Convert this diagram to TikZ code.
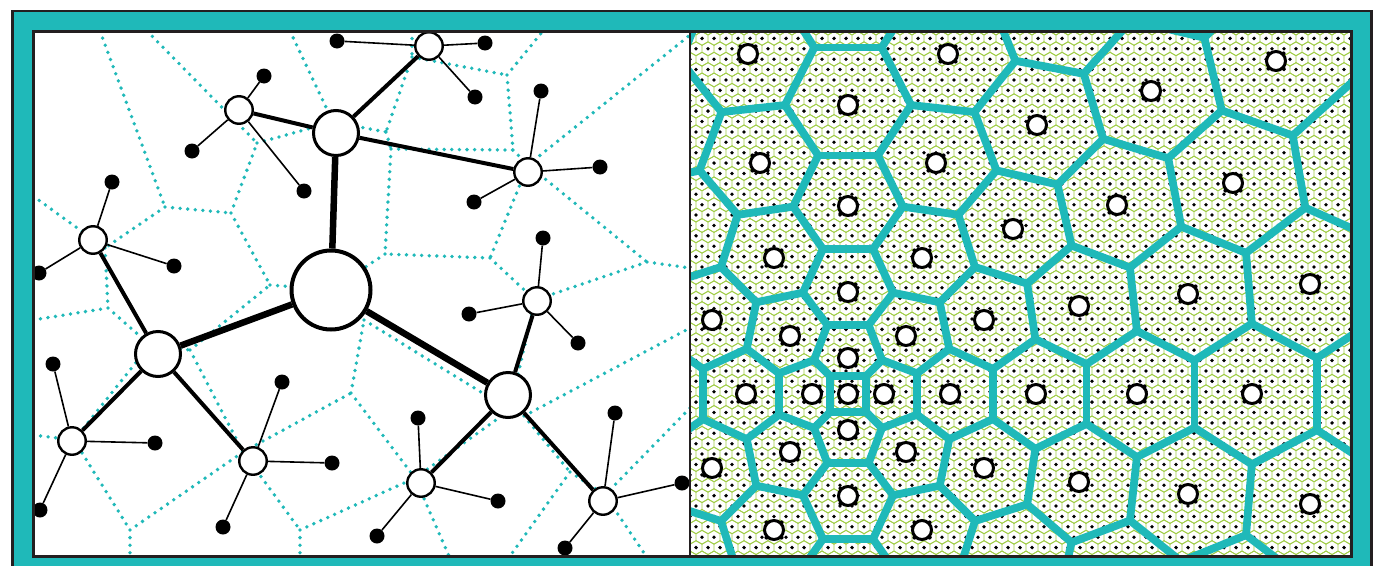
\documentclass[tikz,border=0pt]{standalone}
\usetikzlibrary{calc}
\definecolor{tealc}{RGB}{31,185,185}
\definecolor{darkc}{RGB}{35,31,32}
\definecolor{meshc}{RGB}{160,205,70}
\def\VorSites{848/394,884/394,812/394,848/430,848/358,906/452,906/336,790/452,790/336,950/394,746/394,848/496,848/292,984/468,984/320,712/468,712/320,922/530,922/258,774/530,774/258,1036/394,660/394,848/582,848/206,1079/482,1079/306,617/482,617/306,936/625,936/163,760/625,760/163,1013/559,1013/229,683/559,683/229,1137/394,559/394,848/683,848/105,1188/494,1188/294,948/54,748/54,1117/583,1117/205,579/583,579/205,1037/663,1037/125,659/663,659/125,1151/91,1233/183,1233/605,1059/9,637/9,1252/394,848/-10,1276/61,1181/-34,1310/504,1310/284,958/-68,738/-68,1382/394,1365/160,1365/628}
\begin{document}
\begin{tikzpicture}[x=1pt,y=-1pt,
  vline/.style={tealc, line width=3.8pt, dash pattern=on 0pt off 7.6pt, line cap=round},
  hubedge/.style={line width=6.5pt},
  midedge/.style={line width=4pt},
  thinedge/.style={line width=1.6pt},
  bignode/.style={circle, draw, fill=white, line width=4pt, minimum size=79pt, inner sep=0pt},
  hubnode/.style={circle, draw, fill=white, line width=3pt, minimum size=45pt, inner sep=0pt},
  smallnode/.style={circle, draw, fill=white, line width=2.4pt, minimum size=27.5pt, inner sep=0pt},
  leaf/.style={circle, fill=black, minimum size=15pt, inner sep=0pt},
  sitec/.style={circle, draw, fill=white, line width=3pt, minimum size=19pt, inner sep=0pt},
  voredge/.style={tealc, line width=7.8pt}]
\useasboundingbox (0,0) rectangle (1381,565);
\fill[white] (0,0) rectangle (1381,565);
\filldraw[fill=tealc, draw=darkc, line width=2.5pt] (12.5,11) rectangle (1371.5,600);
\fill[white] (33.5,31.5) rectangle (1351.5,556);

% ---------------- left panel ----------------
\begin{scope}
\clip (33.5,31.5) rectangle (690,556);
\coordinate (e1) at (100,31); \coordinate (e2) at (147,31); \coordinate (e3) at (290,31);
\coordinate (e4) at (412,31); \coordinate (e5) at (543,31); \coordinate (e6) at (690,35);
\coordinate (e7) at (690,268); \coordinate (e8) at (690,328); \coordinate (e9) at (690,408);
\coordinate (e10) at (646,556); \coordinate (e11) at (510,556); \coordinate (e12) at (449,556);
\coordinate (e13) at (300,556); \coordinate (e14) at (130,556); \coordinate (e15) at (33,435);
\coordinate (e16) at (33,320); \coordinate (e17) at (33,196);
\coordinate (V1) at (165,207); \coordinate (V2) at (257,143); \coordinate (VT) at (333,122);
\coordinate (V3) at (386,132); \coordinate (V4) at (391,149); \coordinate (V5) at (513,150);
\coordinate (V6) at (385,254); \coordinate (V7) at (507,75); \coordinate (V8) at (412,57);
\coordinate (V9) at (528,165); \coordinate (V10) at (490,258); \coordinate (V11) at (647,262);
\coordinate (V12) at (535,300); \coordinate (V13) at (510,410); \coordinate (V13b) at (524,416);
\coordinate (V14) at (351,393); \coordinate (V15) at (415,478); \coordinate (V16) at (570,472);
\coordinate (V17) at (605,495); \coordinate (V18) at (130,530); \coordinate (V19) at (243,452);
\coordinate (V20) at (300,530); \coordinate (V21) at (231,213); \coordinate (V22) at (270,285);
\coordinate (V23) at (105,248); \coordinate (V24) at (190,350); \coordinate (V25) at (108,308);
\coordinate (VL) at (150,345); \coordinate (V26) at (74,440); \coordinate (VC) at (331,290);
\coordinate (V27) at (364,320);
\draw[vline] (e1) -- (V1) (V1) -- (V23) (V1) -- (V21) (e17) -- (V23) (V23) -- (V25)
  (V25) -- (e16) (V25) -- (VL) (VL) -- (V26) (e15) -- (V26) (V26) -- (V18) (V18) -- (e14)
  (V18) -- (V19) (VL) -- (V24) (V24) -- (V22) (V24) -- (V19) (V19) -- (V14) (V19) -- (V20)
  (V20) -- (e13) (V20) -- (V15) (V14) -- (V27) (V27) -- (VC) (V27) -- (V13) (V14) -- (V15)
  (V15) -- (e12) (V15) -- (V13) (V6) -- (VC) (V22) -- (VC) (V21) -- (V22) (V21) -- (V2)
  (e2) -- (V2) (V2) -- (VT) (e3) -- (VT) (VT) -- (V3) (e4) -- (V8) (V8) -- (V3) (V8) -- (V7)
  (V3) -- (V4) (V4) -- (V5) (V4) -- (V6) (V7) -- (e5) (V7) -- (V5) (V5) -- (V9) (V9) -- (e6)
  (V9) -- (V10) (V9) -- (V11) (V10) -- (V6) (V10) -- (V12) (V11) -- (e7) (V11) -- (V12)
  (V12) -- (V13) (V13) -- (V13b) (V13b) -- (e8) (V13b) -- (V16) (V16) -- (e11) (V16) -- (V17)
  (V17) -- (e9) (V17) -- (e10);
% nodes
\node[bignode] (C) at (331,290) {};
\node[hubnode] (T) at (336,133) {};
\node[hubnode] (L) at (158,354) {};
\node[hubnode] (R) at (508,395) {};
\foreach \nm/\px/\py in {n1/239/110,n2/429/46,n3/528/172,n4/93/240,n5/537/301,n6/72/441,n7/253/461,n8/421/483,n9/603/501}
  \node[smallnode] (\nm) at (\px,\py) {};
\foreach \nm/\px/\py in {n1a/264/76,n1b/192/151,n1c/304/191,n2a/337/41,n2b/485/43,n2c/475/97,
  n3a/541/91,n3b/600/167,n3c/474/202,n4a/112/182,n4b/174/266,n4c/39/273,n5a/543/238,n5b/469/314,
  n5c/578/343,n6a/53/364,n6b/155/443,n6c/40/510,n7a/282/382,n7b/332/463,n7c/223/527,
  n8a/418/418,n8b/498/501,n8c/377/536,n9a/615/413,n9b/682/483,n9c/565/548}
  \node[leaf] (\nm) at (\px,\py) {};
\draw[hubedge] (C) -- (T) (C) -- (L) (C) -- (R);
\draw[midedge] (T) -- (n1) (T) -- (n2) (T) -- (n3) (L) -- (n4) (L) -- (n6) (L) -- (n7)
  (R) -- (n5) (R) -- (n8) (R) -- (n9);
\foreach \nm in {n1,n2,n3,n4,n5,n6,n7,n8,n9}
  \draw[thinedge] (\nm) -- (\nm a) (\nm) -- (\nm b) (\nm) -- (\nm c);
\end{scope}

% ---------------- right panel ----------------
\begin{scope}
\clip (690,31.5) rectangle (1351.5,556);
\foreach \r in {0,...,52} {
  \pgfmathsetmacro\yy{28+\r*10.392}
  \pgfmathsetmacro\xo{684+mod(\r,2)*6}
  \draw[meshc, line width=0.8pt] \foreach \c in {0,...,56} {(\xo+\c*12,\yy) +(30:6.93) -- +(90:6.93) -- +(150:6.93) -- +(210:6.93) -- +(270:6.93) -- +(330:6.93) -- cycle};
  \fill[black] \foreach \c in {0,...,56} {(\xo+\c*12,\yy) circle (1.9)};
}
\foreach \ax/\ay in \VorSites {
  \begin{scope}
    \foreach \bx/\by in \VorSites {
      \pgfmathsetmacro\dd{veclen(\bx-\ax,\by-\ay)}
      \ifdim\dd pt>1pt\relax\ifdim\dd pt<240pt\relax
        \coordinate (vm) at ($(\ax,\ay)!0.5!(\bx,\by)$);
        \coordinate (vc) at ($(vm)!1pt!(\bx,\by)$);
        \clip ($(vc)!3000pt!90:(\bx,\by)$) -- ($(vc)!3000pt!180:(\bx,\by)$) -- ($(vc)!3000pt!-90:(\bx,\by)$) -- cycle;
      \fi\fi
    }
    \foreach \bx/\by in \VorSites {
      \pgfmathsetmacro\dd{veclen(\bx-\ax,\by-\ay)}
      \ifdim\dd pt>1pt\relax\ifdim\dd pt<240pt\relax
        \coordinate (vm) at ($(\ax,\ay)!0.5!(\bx,\by)$);
        \draw[voredge] ($(vm)!900pt!90:(\bx,\by)$) -- ($(vm)!900pt!-90:(\bx,\by)$);
      \fi\fi
    }
  \end{scope}
}
\foreach \ax/\ay [count=\k] in \VorSites {
  \pgfmathtruncatemacro\inside{(\ax>690)*(\ax<1352)*(\ay>31)*(\ay<556)}
  \ifnum\inside=1
  \fill[black] (\ax+7.6,\ay+7.6) circle (2) (\ax-7.6,\ay+7.6) circle (2)
     (\ax+7.6,\ay-7.6) circle (2) (\ax-7.6,\ay-7.6) circle (2);
  \node[sitec] (s\k) at (\ax,\ay) {};
  \fi
}
\end{scope}

% borders
\draw[darkc, line width=3pt] (33.5,31.5) rectangle (1351.5,556);
\draw[darkc, line width=2.5pt] (690,31.5) -- (690,556);
\end{tikzpicture}
\end{document}
